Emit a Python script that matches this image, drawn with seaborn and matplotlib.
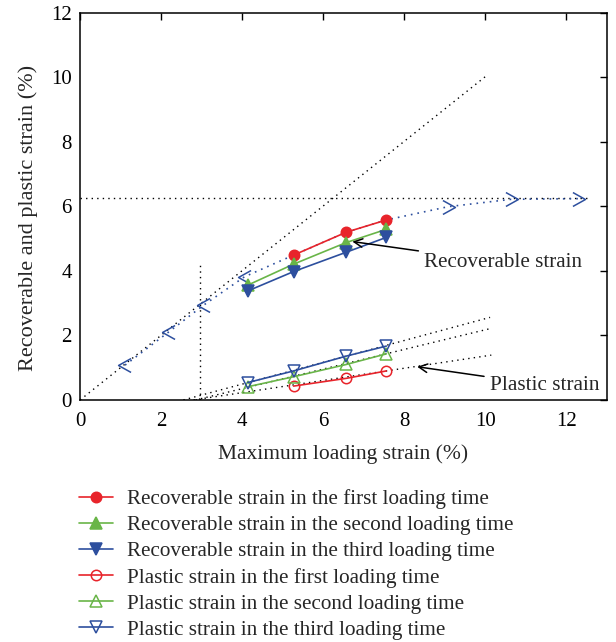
import numpy as np
import pandas as pd
import matplotlib
matplotlib.use("Agg")
import matplotlib.pyplot as plt
from matplotlib.path import Path
import seaborn as sns

# ---------------- data ----------------
x_load4 = [4.14, 5.27, 6.57, 7.56]
x_load3 = [5.27, 6.57, 7.56]

rec_first = [4.49, 5.20, 5.58]
rec_second = [3.56, 4.21, 4.88, 5.29]
rec_third = [3.38, 3.98, 4.58, 5.04]

pla_first = [0.43, 0.67, 0.90]
pla_second = [0.41, 0.72, 1.10, 1.43]
pla_third = [0.54, 0.90, 1.36, 1.67]

# auxiliary dotted guide lines
diag_x = [0, 10]
diag_y = [0, 10.02]
horiz_x = [0, 12.5]
horiz_y = [6.27, 6.27]
vert_x = [2.95, 2.95]
vert_y = [0, 4.29]
fitA_x = [2.55, 10.12]
fitA_y = [0.0, 2.56]
fitB_x = [2.85, 10.15]
fitB_y = [0.0, 2.22]
fitC_x = [2.80, 10.15]
fitC_y = [0.0, 1.39]

# blue dotted path with chevron markers
chev_x = [1.11, 2.20, 3.05, 4.06, 5.27, 6.57, 7.56, 9.08, 10.64, 12.29]
chev_y = [1.08, 2.12, 2.94, 3.82, 4.49, 5.20, 5.58, 5.99, 6.22, 6.24]
chev_left_x = [1.11, 2.20, 3.05, 4.06]
chev_left_y = [1.08, 2.12, 2.94, 3.82]
chev_right_x = [9.08, 10.64, 12.29]
chev_right_y = [5.99, 6.22, 6.24]

x_ticks = [0, 2, 4, 6, 8, 10, 12]
y_ticks = [0, 2, 4, 6, 8, 10, 12]

labels = [
    "Recoverable strain in the first loading time",
    "Recoverable strain in the second loading time",
    "Recoverable strain in the third loading time",
    "Plastic strain in the first loading time",
    "Plastic strain in the second loading time",
    "Plastic strain in the third loading time",
]

# ---------------- style ----------------
sns.set_theme(style="white")
plt.rcParams["font.family"] = ["Liberation Serif", "DejaVu Serif"]
plt.rcParams["font.size"] = 15

RED = "#e8242b"
GREEN = "#69b548"
BLUE = "#2d4f9e"

fig = plt.figure(figsize=(6.16, 6.42), dpi=100)
ax = fig.add_axes([0.130, 0.377, 0.855, 0.603])

dot = (0, (1, 3))
guide_kw = dict(color="black", lw=1.0, linestyle=dot, legend=False)

sns.lineplot(x=diag_x, y=diag_y, ax=ax, **guide_kw)
sns.lineplot(x=horiz_x, y=horiz_y, ax=ax, **guide_kw)
ax.plot(vert_x, vert_y, color="black", lw=1.0, linestyle=dot)
sns.lineplot(x=fitA_x, y=fitA_y, ax=ax, **guide_kw)
sns.lineplot(x=fitB_x, y=fitB_y, ax=ax, **guide_kw)
sns.lineplot(x=fitC_x, y=fitC_y, ax=ax, **guide_kw)

# blue chevron path
sns.lineplot(x=chev_x, y=chev_y, ax=ax, color=BLUE, lw=1.2, linestyle=dot, legend=False)
left_chev = Path([(0.8, 1.0), (-1.0, 0.0), (0.8, -1.0)], [Path.MOVETO, Path.LINETO, Path.LINETO])
right_chev = Path([(-0.8, 1.0), (1.0, 0.0), (-0.8, -1.0)], [Path.MOVETO, Path.LINETO, Path.LINETO])
ax.plot(chev_left_x, chev_left_y, linestyle="none", marker=left_chev, ms=10,
        mfc="none", mec=BLUE, mew=1.1)
ax.plot(chev_right_x, chev_right_y, linestyle="none", marker=right_chev, ms=10,
        mfc="none", mec=BLUE, mew=1.1)

handles = []
series = [
    (x_load3, rec_first, RED, "o", True),
    (x_load4, rec_second, GREEN, "^", True),
    (x_load4, rec_third, BLUE, "v", True),
    (x_load3, pla_first, RED, "o", False),
    (x_load4, pla_second, GREEN, "^", False),
    (x_load4, pla_third, BLUE, "v", False),
]
for (xs, ys, c, m, filled), lab in zip(series, labels):
    sns.lineplot(x=xs, y=ys, ax=ax, color=c, lw=1.2, marker=m,
                 ms=7.5 if m == "o" else 8.5,
                 mfc=c if filled else "none", mec=c, mew=1.1, label=lab, legend=False)
    handles.append(ax.lines[-1])

# annotations
ax.annotate("Recoverable strain", xy=(6.72, 4.91), xytext=(8.5, 4.25),
            fontsize=15.2, va="center", ha="left",
            arrowprops=dict(arrowstyle="->", color="black", lw=1.1,
                            shrinkA=2, shrinkB=0))
ax.annotate("Plastic strain", xy=(8.32, 1.03), xytext=(10.12, 0.46),
            fontsize=15.3, va="center", ha="left",
            arrowprops=dict(arrowstyle="->", color="black", lw=1.1,
                            shrinkA=2, shrinkB=0))

ax.set_xlim(0, 13)
ax.set_ylim(0, 12)
ax.set_xticks(x_ticks)
ax.set_yticks(y_ticks)
ax.set_xticklabels([str(t) for t in x_ticks])
ax.set_yticklabels([str(t) for t in y_ticks])
ax.tick_params(direction="in", length=5, width=1, top=True, right=True,
               labeltop=False, labelright=False, labelsize=15, colors="black")
ax.tick_params(axis="x", pad=9)
ax.tick_params(axis="y", pad=6)
for s in ax.spines.values():
    s.set_color("black")
    s.set_linewidth(1.1)
ax.set_xlabel("Maximum loading strain (%)", fontsize=15.5, labelpad=9)
ax.set_ylabel("Recoverable and plastic strain (%)", fontsize=16)
ax.yaxis.set_label_coords(-0.080, 0.47)

fig.legend(handles=handles, labels=labels, loc="upper left",
           bbox_to_anchor=(0.128, 0.238), frameon=False, fontsize=15.2,
           handlelength=1.6, handletextpad=0.7, labelspacing=0.3,
           borderpad=0, borderaxespad=0)

fig.savefig("out.png", dpi=100)
